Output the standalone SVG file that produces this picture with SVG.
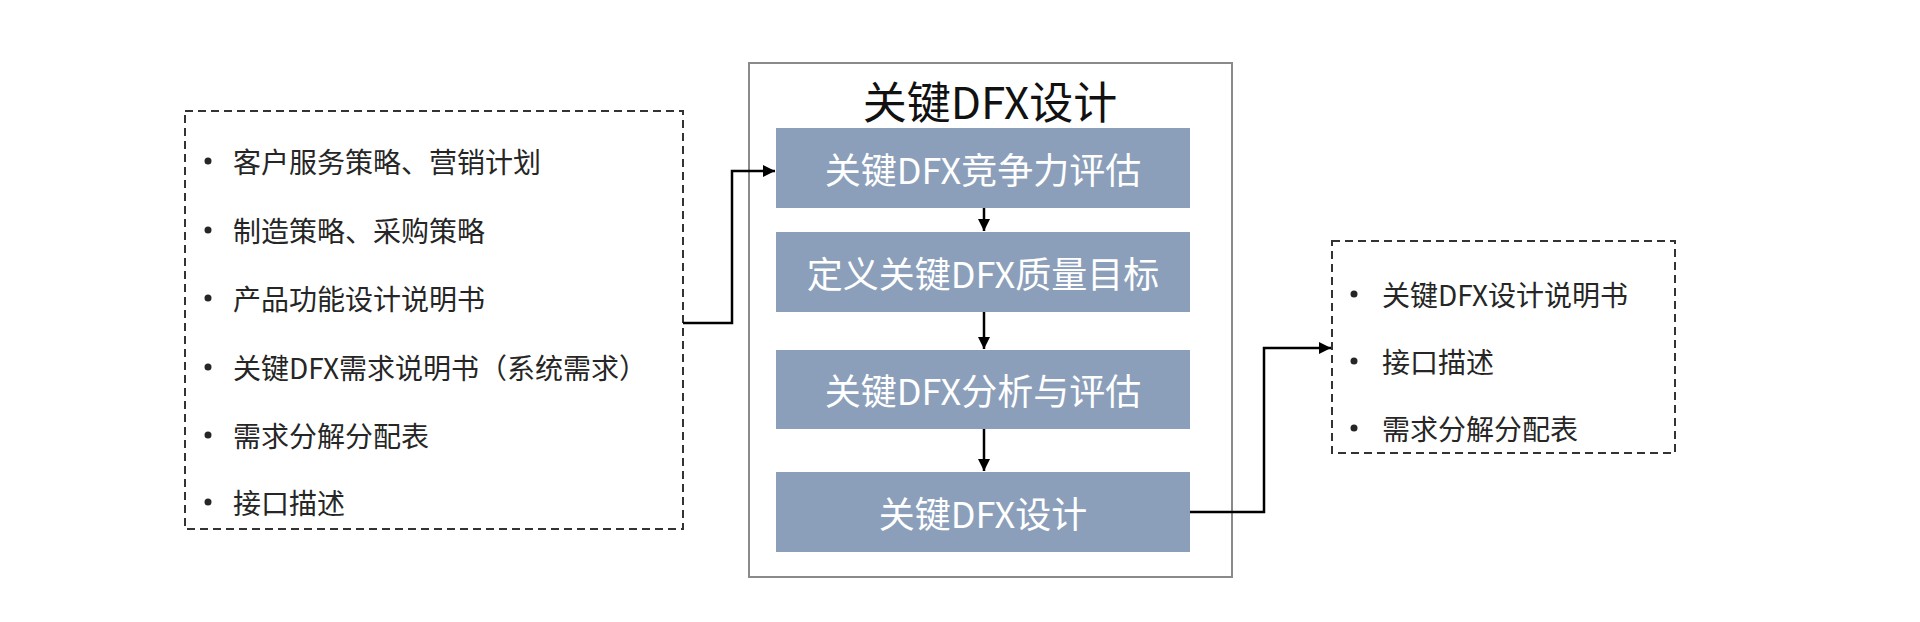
<svg xmlns="http://www.w3.org/2000/svg" width="1920" height="622" viewBox="0 0 1920 622">
<defs>
<style>
text{font-family:"Noto Sans CJK SC","Microsoft YaHei",sans-serif;}
.dash{fill:none;stroke:#333;stroke-width:2;stroke-dasharray:8 5;}
.item{font-size:28px;fill:#262626;dominant-baseline:central;}
.dot{fill:#262626;}
.step{fill:#8C9FBA;}
.steptxt{font-size:36px;fill:#fff;text-anchor:middle;dominant-baseline:central;}
.conn{fill:none;stroke:#000;stroke-width:2.5;}
</style>
<marker id="ah" viewBox="0 0 10 10" refX="10" refY="5" markerWidth="5" markerHeight="5" orient="auto" markerUnits="strokeWidth">
<path d="M0,0 L10,5 L0,10 z" fill="#000"/>
</marker>
</defs>
<rect width="1920" height="622" fill="#fff"/>

<g id="inputs">
<rect class="dash" x="185" y="111" width="498" height="418"/>
<circle class="dot" cx="208" cy="161" r="3.5"/><text class="item" x="233" y="161">客户服务策略、营销计划</text>
<circle class="dot" cx="208" cy="230" r="3.5"/><text class="item" x="233" y="230">制造策略、采购策略</text>
<circle class="dot" cx="208" cy="298" r="3.5"/><text class="item" x="233" y="298">产品功能设计说明书</text>
<circle class="dot" cx="208" cy="367" r="3.5"/><text class="item" x="233" y="367">关键DFX需求说明书（系统需求）</text>
<circle class="dot" cx="208" cy="435" r="3.5"/><text class="item" x="233" y="435">需求分解分配表</text>
<circle class="dot" cx="208" cy="502" r="3.5"/><text class="item" x="233" y="502">接口描述</text>
</g>

<g id="dfx-design">
<rect x="749" y="63" width="483" height="514" fill="#fff" stroke="#8a8a8a" stroke-width="2"/>
<text x="990" y="100" font-size="44" fill="#111" text-anchor="middle" dominant-baseline="central">关键DFX设计</text>
</g>

<g id="step1">
<rect class="step" x="776" y="128" width="414" height="80"/>
<text class="steptxt" x="983" y="168">关键DFX竞争力评估</text>
</g>
<g id="step2">
<rect class="step" x="776" y="232" width="414" height="80"/>
<text class="steptxt" x="983" y="272">定义关键DFX质量目标</text>
</g>
<g id="step3">
<rect class="step" x="776" y="350" width="414" height="79"/>
<text class="steptxt" x="983" y="389">关键DFX分析与评估</text>
</g>
<g id="step4">
<rect class="step" x="776" y="472" width="414" height="80"/>
<text class="steptxt" x="983" y="512">关键DFX设计</text>
</g>

<g id="outputs">
<rect class="dash" x="1332" y="241" width="343" height="212"/>
<circle class="dot" cx="1354" cy="294" r="3.5"/><text class="item" x="1382" y="294">关键DFX设计说明书</text>
<circle class="dot" cx="1354" cy="361" r="3.5"/><text class="item" x="1382" y="361">接口描述</text>
<circle class="dot" cx="1354" cy="428" r="3.5"/><text class="item" x="1382" y="428">需求分解分配表</text>
</g>

<g id="connectors">
<path class="conn" d="M683,323 H732 V171 H775" marker-end="url(#ah)"/>
<path class="conn" d="M984,208 V231" marker-end="url(#ah)"/>
<path class="conn" d="M984,312 V349" marker-end="url(#ah)"/>
<path class="conn" d="M984,429 V471" marker-end="url(#ah)"/>
<path class="conn" d="M1190,512 H1264 V348 H1331" marker-end="url(#ah)"/>
</g>
</svg>
